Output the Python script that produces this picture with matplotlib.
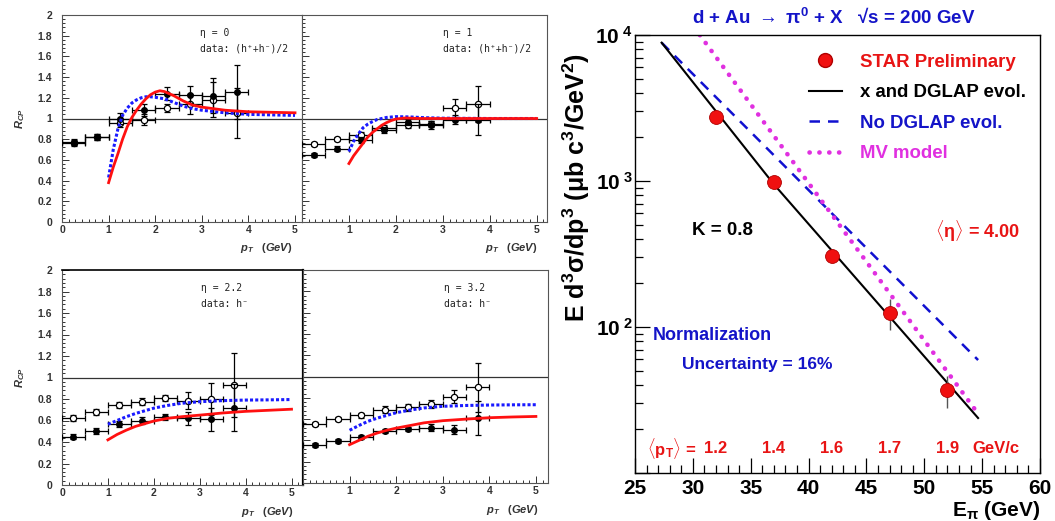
import numpy as np
import matplotlib
matplotlib.use("Agg")
import matplotlib.pyplot as plt
from matplotlib.ticker import MultipleLocator, AutoMinorLocator, FixedLocator, FixedFormatter, NullFormatter, LogLocator, FuncFormatter
from matplotlib.lines import Line2D

plt.rcParams['mathtext.fontset'] = 'custom'
plt.rcParams['mathtext.rm'] = 'Liberation Sans:bold'
plt.rcParams['mathtext.it'] = 'Liberation Sans:bold:italic'
plt.rcParams['mathtext.bf'] = 'Liberation Sans:bold'
plt.rcParams['mathtext.sf'] = 'Liberation Sans:bold'
plt.rcParams['font.family'] = ['Liberation Sans', 'DejaVu Sans']

# ---------------- left panels: R_CP vs pT ----------------
pt_bins = [0.25, 0.75, 1.25, 1.75, 2.25, 2.75, 3.25, 3.75]
pt_halfwidth = [0.25] * 8

panel_titles = ["\u03b7 = 0", "\u03b7 = 1", "\u03b7 = 2.2", "\u03b7 = 3.2"]
panel_data_labels = ["data: (h\u207a+h\u207b)/2", "data: (h\u207a+h\u207b)/2", "data: h\u207b", "data: h\u207b"]

eta0_filled = [0.77, 0.82, 1.00, 1.08, 1.24, 1.23, 1.22, 1.26]
eta0_filled_err = [0.03, 0.03, 0.05, 0.06, 0.06, 0.08, 0.17, 0.26]
eta0_open = [0.76, 0.82, 0.96, 0.99, 1.10, 1.14, 1.18, 1.05]
eta0_open_err = [0.03, 0.03, 0.04, 0.05, 0.04, 0.10, 0.17, 0.24]

eta1_filled = [0.65, 0.71, 0.79, 0.89, 0.97, 0.94, 0.99, 0.99]
eta1_filled_err = [0.02, 0.02, 0.03, 0.03, 0.03, 0.04, 0.04, 0.15]
eta1_open = [0.75, 0.80, 0.84, 0.91, 0.94, 0.95, 1.10, 1.14]
eta1_open_err = [0.02, 0.02, 0.03, 0.03, 0.03, 0.03, 0.09, 0.17]

eta22_filled = [0.45, 0.50, 0.565, 0.60, 0.635, 0.62, 0.61, 0.72]
eta22_filled_err = [0.02, 0.03, 0.03, 0.03, 0.03, 0.06, 0.11, 0.22]
eta22_open = [0.625, 0.68, 0.745, 0.775, 0.81, 0.785, 0.80, 0.93]
eta22_open_err = [0.03, 0.03, 0.03, 0.03, 0.03, 0.08, 0.15, 0.30]

eta32_filled = [0.36, 0.395, 0.43, 0.49, 0.51, 0.52, 0.50, 0.61]
eta32_filled_err = [0.02, 0.02, 0.02, 0.02, 0.02, 0.03, 0.04, 0.16]
eta32_open = [0.555, 0.60, 0.635, 0.69, 0.71, 0.74, 0.81, 0.90]
eta32_open_err = [0.02, 0.02, 0.02, 0.03, 0.03, 0.04, 0.06, 0.23]

# theory curves (red solid, blue dotted)
red0_x = [1.0, 1.1, 1.2, 1.3, 1.4, 1.5, 1.6, 1.7, 1.8, 1.9, 2.0, 2.1, 2.2, 2.4, 2.6, 2.8, 3.0, 3.5, 4.0, 4.5, 5.0]
red0_y = [0.38, 0.53, 0.66, 0.80, 0.92, 1.01, 1.08, 1.14, 1.19, 1.23, 1.255, 1.268, 1.26, 1.22, 1.17, 1.13, 1.11, 1.08, 1.065, 1.06, 1.055]
blue0_x = [1.0, 1.1, 1.2, 1.3, 1.4, 1.5, 1.6, 1.7, 1.8, 1.9, 2.0, 2.2, 2.4, 2.6, 2.8, 3.0, 3.5, 4.0, 4.5, 5.0]
blue0_y = [0.43, 0.70, 0.90, 1.03, 1.10, 1.15, 1.18, 1.20, 1.21, 1.21, 1.205, 1.19, 1.155, 1.12, 1.095, 1.08, 1.055, 1.04, 1.035, 1.03]

red1_x = [1.0, 1.1, 1.2, 1.3, 1.4, 1.5, 1.6, 1.7, 1.8, 1.9, 2.0, 2.2, 2.5, 3.0, 4.0, 5.0]
red1_y = [0.565, 0.64, 0.70, 0.76, 0.82, 0.865, 0.90, 0.935, 0.96, 0.98, 0.995, 1.005, 1.0, 1.0, 1.0, 1.0]
blue1_x = [1.0, 1.1, 1.2, 1.3, 1.4, 1.5, 1.6, 1.8, 2.0, 2.3, 2.6, 3.0, 4.0, 5.0]
blue1_y = [0.68, 0.78, 0.85, 0.91, 0.945, 0.97, 0.99, 1.01, 1.018, 1.015, 1.008, 1.003, 1.0, 1.0]

curve_x = [1.0, 1.2, 1.4, 1.6, 1.8, 2.0, 2.3, 2.6, 3.0, 3.5, 4.0, 4.5, 5.0]
red22_y = [0.42, 0.47, 0.51, 0.545, 0.57, 0.595, 0.62, 0.635, 0.65, 0.67, 0.685, 0.695, 0.705]
blue22_y = [0.565, 0.60, 0.635, 0.665, 0.69, 0.715, 0.74, 0.76, 0.775, 0.785, 0.79, 0.792, 0.795]
red32_y = [0.36, 0.40, 0.44, 0.47, 0.495, 0.515, 0.54, 0.565, 0.585, 0.60, 0.613, 0.62, 0.625]
blue32_y = [0.495, 0.54, 0.58, 0.61, 0.635, 0.66, 0.685, 0.705, 0.72, 0.728, 0.732, 0.734, 0.735]

# ---------------- right panel: forward pi0 spectrum ----------------
E_pi = [32, 37, 42, 47, 52]
xsec = [2750, 990, 305, 125, 37]
xsec_err = [120, 45, 25, 30, 9]
mean_pt = ["1.2", "1.4", "1.6", "1.7", "1.9"]

dglap_E = [27.3, 37.0, 54.65]
dglap_xsec = [8860, 950, 23.8]
nodglap_E = [27.3, 54.65]
nodglap_xsec = [8860, 59.4]
mv_E = [30.6, 54.6]
mv_xsec = [10000, 25.8]

W, H = 1055, 521
fig = plt.figure(figsize=(W / 100, H / 100), dpi=100)


def px_axes(x0, y0, x1, y1):
    return fig.add_axes([x0 / W, 1 - y1 / H, (x1 - x0) / W, (y1 - y0) / H])


RED = '#ff1010'
BLUE = '#1a1aff'
gfmt = FuncFormatter(lambda v, _: f'{v:g}')

panels = [
    dict(box=(62, 15, 302, 222), xmax=5.15, f=eta0_filled, fe=eta0_filled_err, o=eta0_open, oe=eta0_open_err,
         rx=red0_x, ry=red0_y, bx=blue0_x, by=blue0_y, ylab=True),
    dict(box=(302, 15, 547, 222), xmax=5.22, f=eta1_filled, fe=eta1_filled_err, o=eta1_open, oe=eta1_open_err,
         rx=red1_x, ry=red1_y, bx=blue1_x, by=blue1_y, ylab=False),
    dict(box=(62, 270, 303, 485), xmax=5.25, f=eta22_filled, fe=eta22_filled_err, o=eta22_open, oe=eta22_open_err,
         rx=curve_x, ry=red22_y, bx=curve_x, by=blue22_y, ylab=True),
    dict(box=(303, 270, 548, 483), xmax=5.26, f=eta32_filled, fe=eta32_filled_err, o=eta32_open, oe=eta32_open_err,
         rx=curve_x, ry=red32_y, bx=curve_x, by=blue32_y, ylab=False),
]

for i, p in enumerate(panels):
    ax = px_axes(*p['box'])
    ax.set_xlim(0, p['xmax'])
    ax.set_ylim(0, 2)
    ax.axhline(1.0, color='#333333', lw=0.9, zorder=1)
    ax.errorbar(pt_bins, p['o'], yerr=p['oe'], xerr=pt_halfwidth, fmt='o', ms=4.5, mfc='white', mec='black',
                mew=0.9, ecolor='black', elinewidth=0.9, capsize=2, capthick=0.9, zorder=3)
    ax.errorbar(pt_bins, p['f'], yerr=p['fe'], xerr=pt_halfwidth, fmt='o', ms=4, mfc='black', mec='black',
                ecolor='black', elinewidth=0.9, capsize=2, capthick=0.9, zorder=4)
    ax.plot(p['bx'], p['by'], color=BLUE, lw=2.2, linestyle=(0, (1, 0.7)), zorder=5)
    ax.plot(p['rx'], p['ry'], color=RED, lw=2.0, zorder=6)

    ax.xaxis.set_major_locator(MultipleLocator(1))
    ax.xaxis.set_minor_locator(MultipleLocator(1 / 7))
    ax.yaxis.set_major_locator(MultipleLocator(0.2))
    ax.yaxis.set_minor_locator(AutoMinorLocator(5))
    ax.tick_params(which='both', direction='in', top=False, right=False, color='#333333', width=0.7)
    ax.tick_params(which='major', length=5)
    ax.tick_params(which='minor', length=2.5)
    ax.tick_params(axis='x', which='major', labelsize=7.5, pad=2.5, labelcolor='#333333')
    ax.tick_params(axis='y', which='major', labelsize=7.5, pad=7, labelcolor='#333333')
    if p['ylab']:
        ax.xaxis.set_major_formatter(gfmt)
        ax.yaxis.set_major_formatter(gfmt)
        ax.set_ylabel(r'$\mathit{R_{CP}}$', fontsize=8, color='#333333', labelpad=8)
    else:
        ax.xaxis.set_major_formatter(FuncFormatter(lambda v, _: '' if abs(v) < 1e-9 else f'{v:g}'))
        ax.yaxis.set_major_formatter(NullFormatter())
    for lab in ax.get_xticklabels() + ax.get_yticklabels():
        lab.set_fontweight('bold')
    for s in ax.spines.values():
        s.set_color('#555555')
        s.set_linewidth(0.8)
    if i == 2:
        ax.spines['right'].set_color('black')
        ax.spines['right'].set_linewidth(1.6)
        ax.spines['top'].set_color('black')
        ax.spines['top'].set_linewidth(1.2)
    ax.text(0.575, 0.915, panel_titles[i], transform=ax.transAxes, fontsize=7, family='DejaVu Sans Mono',
            color='#222222', va='center', ha='left')
    ax.text(0.575, 0.84, panel_data_labels[i], transform=ax.transAxes, fontsize=7, family='DejaVu Sans Mono',
            color='#222222', va='center', ha='left')
    ax.text(0.96, -0.125, r'$\mathit{p_T}$   $\mathit{(GeV)}$', transform=ax.transAxes, fontsize=8,
            color='#333333', va='center', ha='right')

# ---------------- right panel ----------------
axr = px_axes(635, 35, 1040, 473)
axr.set_xlim(25, 60)
axr.set_ylim(10, 1e4)
axr.set_yscale('log')

axr.plot(nodglap_E, nodglap_xsec, color='#1010d0', lw=1.8, linestyle=(0, (4.2, 3.2)), zorder=2)
mv_line, = axr.plot(mv_E, mv_xsec, color='#e030e0', lw=3.3, linestyle=(0, (0.05, 2.1)), zorder=2)
mv_line.set_dash_capstyle('round')
axr.plot(dglap_E, dglap_xsec, color='black', lw=1.5, zorder=3)
axr.errorbar(E_pi, xsec, yerr=xsec_err, fmt='o', ms=10, mfc='#f01010', mec='#b00000', mew=0.6,
             ecolor='#555555', elinewidth=1.0, capsize=0, zorder=5)

axr.xaxis.set_major_locator(MultipleLocator(5))
axr.xaxis.set_minor_locator(MultipleLocator(1))
axr.yaxis.set_major_locator(FixedLocator([10, 100, 1000, 10000]))
axr.yaxis.set_major_formatter(FixedFormatter(['', r'$10^{\ 2}$', r'$10^{\ 3}$', r'$10^{\ 4}$']))
axr.yaxis.set_minor_locator(LogLocator(base=10, subs=np.arange(2, 10)))
axr.yaxis.set_minor_formatter(NullFormatter())
axr.tick_params(which='both', direction='in', top=False, right=False, width=0.9)
axr.tick_params(which='major', length=11)
axr.tick_params(which='minor', length=6)
axr.tick_params(axis='x', labelsize=15, pad=4)
axr.tick_params(axis='y', labelsize=15, pad=1.5)
for lab in axr.get_xticklabels():
    lab.set_fontweight('bold')
for s in axr.spines.values():
    s.set_linewidth(1.0)

# legend
handles = [
    Line2D([], [], marker='o', ls='none', ms=10, mfc='#f01010', mec='#b00000'),
    Line2D([], [], color='black', lw=1.5),
    Line2D([], [], color='#1010d0', lw=1.8, linestyle=(0, (4.2, 3.2))),
    Line2D([], [], color='#e030e0', lw=3.3, linestyle=(0, (0.05, 2.1)), dash_capstyle='round'),
]
labels = ['STAR Preliminary', 'x and DGLAP evol.', 'No DGLAP evol.', 'MV model']
leg = axr.legend(handles, labels, loc='upper left', bbox_to_anchor=(0.43, 0.957), frameon=False,
                 borderaxespad=0, borderpad=0, handlelength=1.75, handletextpad=1.0, labelspacing=0.72,
                 prop={'family': 'Liberation Sans', 'weight': 'bold', 'size': 13.4},
                 labelcolor=['#e81414', 'black', '#1414c8', '#e030e0'])

axr.text(0.215, 0.553, 'K = 0.8', transform=axr.transAxes, fontsize=13.5, fontweight='bold',
         ha='center', va='center', color='black')
axr.text(0.845, 0.553, r'$\langle\mathrm{\eta}\rangle$ = 4.00', transform=axr.transAxes, fontsize=13,
         fontweight='bold', ha='center', va='center', color='#e81414')
axr.text(0.044, 0.315, 'Normalization', transform=axr.transAxes, fontsize=13, fontweight='bold',
         ha='left', va='center', color='#1414c8')
axr.text(0.116, 0.247, 'Uncertainty = 16%', transform=axr.transAxes, fontsize=12.5, fontweight='bold',
         ha='left', va='center', color='#1414c8')
axr.text(0.03, 0.057, r'$\langle \mathrm{p_T}\rangle$ =', transform=axr.transAxes, fontsize=12,
         fontweight='bold', ha='left', va='center', color='#e81414')
for e, v in zip(E_pi, mean_pt):
    axr.text(e, 0.057, v, transform=axr.get_xaxis_transform(), fontsize=12, fontweight='bold',
             ha='center', va='center', color='#e81414')
axr.text(0.832, 0.057, 'GeV/c', transform=axr.transAxes, fontsize=12, fontweight='bold',
         ha='left', va='center', color='#e81414')

title_str = r'd + Au $\rightarrow$ $\mathrm{\pi^{0}}$ + X   ' + '\u221as = 200 GeV'
axr.text(0.49, 1.04, title_str, transform=axr.transAxes,
         fontsize=13.5, fontweight='bold', ha='center', va='center', color='#1414c8')
fig.text(576 / W, 1 - 188 / H, r'E d$^{3}\mathrm{\sigma}$/dp$^{3}$ ($\mathrm{\mu}$b c$^{3}$/GeV$^{2}$)', rotation=90,
         fontsize=18, fontweight='bold', ha='center', va='center', color='black')
axr.text(1.0, -0.085, r'E$_{\mathrm{\pi}}$ (GeV)', transform=axr.transAxes, fontsize=15, fontweight='bold',
         ha='right', va='center', color='black')

fig.savefig('out.png', dpi=100, facecolor='white')
